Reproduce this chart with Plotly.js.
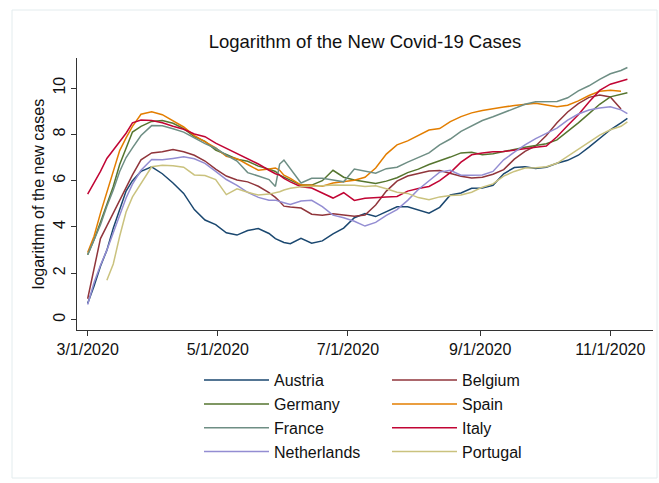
<!DOCTYPE html>
<html><head><meta charset="utf-8">
<script src="https://cdn.plot.ly/plotly-3.0.1.min.js"></script>
<style>html,body{margin:0;padding:0;background:#fff;}#chart{width:659px;height:483px;}</style>
</head><body><div id="chart"></div>
<script>
const dates = ['2020-03-01','2020-03-04','2020-03-07','2020-03-10','2020-03-13','2020-03-16','2020-03-19','2020-03-22','2020-03-26',
'2020-03-31','2020-04-05','2020-04-10','2020-04-15','2020-04-20','2020-04-25','2020-04-30','2020-05-05','2020-05-10','2020-05-15','2020-05-20','2020-05-25',
'2020-05-28','2020-05-30','2020-06-01',
'2020-06-04','2020-06-09','2020-06-14','2020-06-19','2020-06-24','2020-06-29','2020-07-04','2020-07-09','2020-07-14','2020-07-19','2020-07-24','2020-07-29',
'2020-08-03','2020-08-08','2020-08-13','2020-08-18','2020-08-23','2020-08-28','2020-09-02','2020-09-07','2020-09-12','2020-09-17','2020-09-22','2020-09-27',
'2020-10-02','2020-10-07','2020-10-12','2020-10-17','2020-10-22','2020-10-27','2020-11-01','2020-11-06','2020-11-09'];

const austria = [0.7,1.45,2.3,3.0,3.95,4.8,5.55,6.0,6.4,
6.6,6.3,5.9,5.45,4.75,4.3,4.1,3.75,3.65,3.85,3.93,3.72,
3.5,3.43,3.33,
3.28,3.51,3.3,3.4,3.7,3.95,4.4,4.58,4.45,4.65,4.87,4.87,4.75,4.6,4.85,5.38,5.47,5.67,5.68,5.8,6.3,6.57,6.6,6.53,6.58,6.75,6.88,7.1,7.45,7.83,8.2,8.5,
8.69];
const belgium = [0.9,2.2,3.5,4.05,4.6,5.15,5.7,6.25,6.9,
7.2,7.25,7.35,7.25,7.1,6.85,6.5,6.2,6.03,5.95,5.76,5.48,
5.28,5.1,4.9,
4.86,4.82,4.55,4.51,4.57,4.5,4.46,4.52,4.95,5.55,5.98,6.2,6.3,6.42,6.44,6.32,6.19,6.12,6.15,6.28,6.48,6.93,7.27,7.5,7.95,8.5,8.97,9.33,9.6,9.7,9.62,9.1,
null];
const germany = [2.8,3.45,4.2,4.95,5.75,6.7,7.4,8.1,8.35,
8.56,8.6,8.48,8.25,7.9,7.7,7.32,7.13,6.93,6.84,6.63,6.5,
6.4,6.24,6.15,
6.03,5.81,5.81,6.0,6.45,6.15,6.03,5.95,5.88,5.98,6.13,6.35,6.5,6.7,6.85,7.02,7.2,7.23,7.12,7.16,7.26,7.36,7.44,7.52,7.6,7.76,8.12,8.5,8.9,9.3,9.62,9.74,
9.8];
const spain = [2.9,3.6,4.6,5.5,6.4,7.3,7.85,8.35,8.87,
8.98,8.85,8.6,8.32,7.95,7.7,7.42,7.05,6.95,6.7,6.45,6.5,
6.55,6.45,6.24,
6.1,5.81,5.8,5.76,5.9,5.95,6.02,6.15,6.55,7.15,7.55,7.72,7.95,8.19,8.25,8.55,8.77,8.93,9.03,9.12,9.18,9.25,9.31,9.34,9.27,9.19,9.26,9.45,9.68,9.86,9.91,9.86,
null];
const france = [2.8,3.45,4.1,4.9,5.6,6.4,7.0,7.42,7.95,
8.38,8.37,8.24,8.1,7.85,7.6,7.4,7.1,6.85,6.35,6.2,6.05,
5.75,6.72,6.89,
6.5,5.9,6.1,6.1,6.03,5.95,6.5,6.4,6.32,6.52,6.58,6.8,7.0,7.2,7.55,7.8,8.13,8.38,8.6,8.76,8.95,9.12,9.3,9.41,9.41,9.42,9.58,9.88,10.1,10.38,10.62,10.76,
10.89];
const italy = [5.42,5.9,6.4,6.96,7.32,7.7,8.05,8.5,8.62,
8.6,8.5,8.35,8.22,8.02,7.9,7.62,7.4,7.17,6.95,6.72,6.45,
6.3,6.24,6.1,
5.95,5.74,5.68,5.47,5.25,5.48,5.15,5.24,5.28,5.3,5.32,5.55,5.66,5.75,6.0,6.35,6.8,7.12,7.2,7.25,7.26,7.31,7.37,7.44,7.5,7.9,8.38,8.85,9.4,9.9,10.17,10.32,
10.38];
const netherlands = [0.65,1.6,2.35,3.0,3.75,4.5,5.25,5.85,6.45,
6.92,6.9,6.96,7.03,6.95,6.75,6.4,6.05,5.8,5.5,5.28,5.16,
5.16,5.12,5.05,
4.97,5.12,5.15,4.88,4.51,4.4,4.25,4.04,4.2,4.5,4.75,5.15,5.62,6.0,6.37,6.45,6.24,6.24,6.25,6.4,6.9,7.23,7.55,7.82,8.03,8.27,8.62,8.88,9.05,9.14,9.19,9.06,
8.9];
const portugal = [null,null,null,1.7,2.4,3.6,4.65,5.3,5.9,
6.6,6.67,6.65,6.58,6.25,6.22,6.05,5.4,5.65,5.5,5.38,5.42,
5.48,5.52,5.6,
5.67,5.74,5.75,5.78,5.81,5.81,5.8,5.75,5.78,5.65,5.5,5.45,5.27,5.18,5.3,5.36,5.38,5.5,5.72,5.86,6.2,6.4,6.55,6.56,6.6,6.75,7.06,7.35,7.65,7.97,8.2,8.35,
8.54];

const countries = ['Austria','Belgium','Germany','Spain','France','Italy','Netherlands','Portugal'];
const values = [austria, belgium, germany, spain, france, italy, netherlands, portugal];
const colors = ['#1a476f','#90353b','#55752f','#e37e00','#6e8e84','#c10534','#938dd2','#cac27e'];

const xTickVals = ['2020-03-01','2020-05-01','2020-07-01','2020-09-01','2020-11-01'];
const xTickText = ['3/1/2020','5/1/2020','7/1/2020','9/1/2020','11/1/2020'];
const yTickVals = [0,2,4,6,8,10];

const traces = countries.map((name, i) => ({
  type: 'scatter', mode: 'lines', x: dates, y: values[i], name: name,
  line: {color: colors[i], width: 1.5}, connectgaps: false,
  legend: i % 2 === 0 ? 'legend' : 'legend2', legendgroup: name, hoverinfo: 'skip'
}));

const FONT = '"Liberation Sans", Arial, Helvetica, sans-serif';
const legendBase = {orientation: 'v', xanchor: 'left', yanchor: 'top', y: -0.122,
  font: {family: FONT, size: 16, color: '#111'}, bgcolor: 'rgba(0,0,0,0)', borderwidth: 0,
  tracegroupgap: 0, itemwidth: 65, traceorder: 'normal'};

const layout = {
  width: 659, height: 483,
  margin: {l: 77, r: 6, t: 58, b: 153, pad: 0},
  paper_bgcolor: '#ffffff', plot_bgcolor: '#ffffff',
  font: {family: FONT, size: 16, color: '#111'},
  title: {text: 'Logarithm of the New Covid-19 Cases', font: {family: FONT, size: 18.5, color: '#111'},
    x: 0.5, xref: 'paper', xanchor: 'center', y: 1 - 42/483, yref: 'container', yanchor: 'middle'},
  showlegend: true,
  legend: Object.assign({}, legendBase, {x: (199-77)/576}),
  legend2: Object.assign({}, legendBase, {x: (387-77)/576}),
  xaxis: {type: 'date', range: ['2020-02-25','2020-11-21'], tickvals: xTickVals, ticktext: xTickText,
    ticks: 'outside', ticklen: 5, tickwidth: 1, tickcolor: '#333', showline: true, linecolor: '#333', linewidth: 1,
    showgrid: false, zeroline: false, tickfont: {family: FONT, size: 16, color: '#111'}, fixedrange: true},
  yaxis: {range: [-0.45, 11.3], tickvals: yTickVals, ticks: 'outside', ticklen: 5, tickwidth: 1, tickcolor: '#333',
    showline: true, linecolor: '#333', linewidth: 1, showgrid: false, zeroline: false, tickangle: -90,
    tickfont: {family: FONT, size: 16, color: '#111'},
    title: {text: 'logarithm of the new cases', font: {family: FONT, size: 16, color: '#111'}, standoff: 1}, fixedrange: true},
  shapes: [{type: 'rect', xref: 'paper', yref: 'paper', x0: (12-77)/576, x1: (657-77)/576, y0: (330-478)/272, y1: (330-10)/272,
    line: {color: '#e3ecee', width: 1}, fillcolor: 'rgba(0,0,0,0)', layer: 'below'}]
};

Plotly.newPlot('chart', traces, layout, {displayModeBar: false, staticPlot: true});
</script></body></html>
